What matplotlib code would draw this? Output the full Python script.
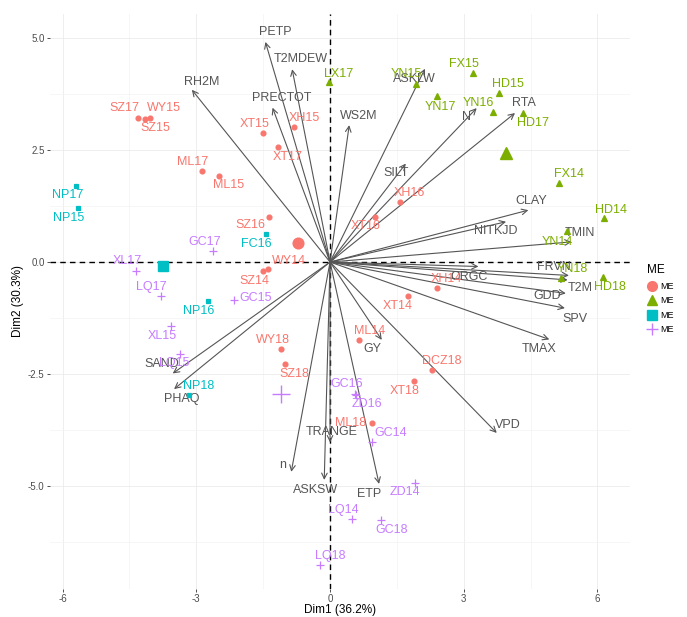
import matplotlib.pyplot as plt
from matplotlib.lines import Line2D

plt.rcParams['font.family'] = ['Liberation Sans', 'DejaVu Sans']

# individuals per group: name, Dim1, Dim2
redNames = ["SZ17", "WY15", "SZ15", "ML17", "ML15", "XT15", "XH15", "XT17", "SZ16", "WY14", "SZ14",
            "WY18", "SZ18", "XH16", "XT16", "XH14", "XT14", "ML14", "DCZ18", "XT18", "ML18"]
redX = [-4.32, -4.05, -4.15, -2.88, -2.49, -1.50, -0.81, -1.17, -1.37, -1.40, -1.50,
        -1.09, -1.01, 1.56, 1.01, 2.41, 1.74, 0.66, 2.29, 1.88, 0.94]
redY = [3.23, 3.23, 3.19, 2.04, 1.93, 2.88, 3.01, 2.57, 1.00, -0.16, -0.19,
        -1.95, -2.28, 1.35, 1.01, -0.59, -0.76, -1.75, -2.41, -2.66, -3.59]

greenNames = ["LX17", "YN15", "FX15", "YN17", "HD15", "YN16", "HD17", "FX14", "HD14", "YN14", "YN18", "HD18"]
greenX = [-0.03, 1.93, 3.21, 2.41, 3.78, 3.65, 4.33, 5.14, 6.14, 5.32, 5.18, 6.13]
greenY = [4.02, 3.97, 4.23, 3.71, 3.77, 3.35, 3.33, 1.76, 0.99, 0.69, -0.36, -0.34]

tealNames = ["NP17", "NP15", "FC16", "NP16", "NP18"]
tealX = [-5.70, -5.65, -1.43, -2.73, -3.17]
tealY = [1.70, 1.21, 0.62, -0.86, -2.98]

purpleNames = ["GC17", "XL17", "LQ17", "GC15", "XL15", "LQ15", "GC16", "ZD16", "GC14", "ZD14", "LQ14", "GC18", "LQ18"]
purpleX = [-2.62, -4.35, -3.80, -2.15, -3.57, -3.37, 0.57, 0.58, 0.94, 1.91, 0.49, 1.15, -0.22]
purpleY = [0.24, -0.19, -0.77, -0.85, -1.44, -2.06, -2.95, -2.97, -4.03, -4.94, -5.74, -5.77, -6.78]

# group centres
centreX = [-0.73, 3.94, -3.74, -1.11]
centreY = [0.43, 2.43, -0.08, -2.95]

# variables: name, Dim1, Dim2
varNames = ["PETP", "T2MDEW", "RH2M", "PRECTOT", "WS2M", "ASKLW", "N", "RTA", "SILT", "CLAY", "NITKJD",
            "TMIN", "ORGC", "FRVN", "T2M", "GDD", "SPV", "TMAX", "GY", "VPD", "SAND", "PHAQ",
            "TRANGE", "n", "ASKSW", "ETP"]
varX = [-1.45, -0.85, -3.10, -1.29, 0.43, 2.13, 3.29, 4.15, 1.70, 4.45, 3.95,
        5.42, 3.33, 5.36, 5.33, 5.29, 5.27, 4.92, 1.16, 3.74, -3.53, -3.50,
        0.00, -0.87, -0.13, 1.10]
varY = [4.92, 4.31, 3.85, 3.45, 3.06, 4.32, 3.44, 3.33, 2.20, 1.16, 0.90,
        0.45, -0.10, -0.30, -0.40, -0.70, -1.03, -1.73, -1.74, -3.82, -2.49, -2.84,
        -4.03, -4.69, -4.87, -4.96]

# label offsets in pixels (x right, y up)
redOff = [(-13, 10), (14, 10), (10, -9), (-9, 9), (9, -9), (-9, 9), (10, 9), (10, -10), (-19, -8), (21, 8), (-9, -10),
          (-9, 9), (9, -10), (10, 9), (-9, -9), (9, 9), (-10, -10), (10, 9), (10, 9), (-9, -10), (-21, 0)]
greenOff = [(10, 8), (-10, 10), (-9, 9), (3, -11), (9, 9), (-14, 9), (10, -10), (10, 9), (7, 8), (-10, -11), (11, 9), (7, -10)]
tealOff = [(-8, -9), (-10, -10), (-10, -10), (-10, -10), (10, 9)]
purpleOff = [(-9, 9), (-9, 10), (-9, 9), (21, 2), (-9, -10), (-6, -9), (-9, 10), (11, -9), (19, 9), (-10, -9), (-9, 9), (10, -10), (10, 9)]
varOff = [(10, 10), (9, 10), (10, 8), (9, 10), (9, 9), (-11, -10), (-10, -9), (9, 10), (-10, -9), (3, 9), (-10, -9),
          (8, 9), (-9, -10), (-15, 8), (13, -8), (-19, -3), (10, -11), (-10, -10), (-9, -9), (11, 8), (-11, 9), (8, -10),
          (2, 10), (-9, 7), (-9, -10), (-10, -10)]

colors = ["#F8766D", "#7CAE00", "#00BFC4", "#C77CFF"]
varColor = "#555555"

fig = plt.figure(figsize=(6.87, 6.17), dpi=100)
ax = fig.add_axes([0.073, 0.046, 0.844, 0.931])

ax.set_xlim(-6.28, 6.73)
ax.set_ylim(-7.30, 5.54)
ax.set_xticks([-6, -3, 0, 3, 6])
ax.set_xticklabels(["-6", "-3", "0", "3", "6"])
ax.set_yticks([-5, -2.5, 0, 2.5, 5])
ax.set_yticklabels(["-5.0", "-2.5", "0.0", "2.5", "5.0"])
ax.set_xticks([-4.5, -1.5, 1.5, 4.5], minor=True)
ax.set_yticks([-6.25, -3.75, -1.25, 1.25, 3.75], minor=True)
ax.grid(which="major", color="#EBEBEB", lw=0.6)
ax.grid(which="minor", color="#F3F3F3", lw=0.5)
ax.set_axisbelow(True)
for s in ax.spines.values():
    s.set_visible(False)
ax.tick_params(which="major", length=2, width=0.6, color="#333333", labelsize=7, labelcolor="#4D4D4D", pad=2)
ax.tick_params(which="minor", length=0)
ax.set_xlabel("Dim1 (36.2%)", fontsize=8.5, labelpad=0)
ax.set_ylabel("Dim2 (30.3%)", fontsize=8.5, labelpad=3)

ax.axhline(0, color="black", ls=(0, (4, 3)), lw=1.0, zorder=1)
ax.axvline(0, color="black", ls=(0, (4, 3)), lw=1.0, zorder=1)

# variable arrows
for name, x, y, off in zip(varNames, varX, varY, varOff):
    ax.annotate("", xy=(x, y), xytext=(0, 0),
                arrowprops=dict(arrowstyle="->", color=varColor, lw=0.8, shrinkA=0, shrinkB=0, mutation_scale=10),
                zorder=2)
    ax.annotate(name, xy=(x, y), xytext=off, textcoords="offset pixels", ha="center", va="center",
                fontsize=9, color=varColor, zorder=3)

groups = [(redNames, redX, redY, redOff, "o", 3.5),
          (greenNames, greenX, greenY, greenOff, "^", 4),
          (tealNames, tealX, tealY, tealOff, "s", 3.5),
          (purpleNames, purpleX, purpleY, purpleOff, "+", 6)]
for i, (names, xs, ys, offs, m, ms) in enumerate(groups):
    ax.plot(xs, ys, ls="none", marker=m, ms=ms, color=colors[i], mew=0.9, zorder=4)
    for name, x, y, off in zip(names, xs, ys, offs):
        ax.annotate(name, xy=(x, y), xytext=off, textcoords="offset pixels", ha="center", va="center",
                    fontsize=9, color=colors[i], zorder=5)
    ax.plot(centreX[i], centreY[i], ls="none", marker=m, ms=ms * 2.2, color=colors[i], mew=1.0, zorder=4)

handles = [Line2D([], [], ls="none", marker=g[4], ms=7 if g[4] != "+" else 9, color=colors[i], mew=1.0)
           for i, g in enumerate(groups)]
leg = fig.legend(handles, ["ME", "ME", "ME", "ME"], title="ME", loc="center left",
                 bbox_to_anchor=(0.93, 0.515), frameon=False, fontsize=6.5, title_fontsize=8.5,
                 handletextpad=0.3, labelspacing=0.6, handlelength=1.2)
leg._legend_box.align = "left"

fig.savefig("out.png", dpi=100)
